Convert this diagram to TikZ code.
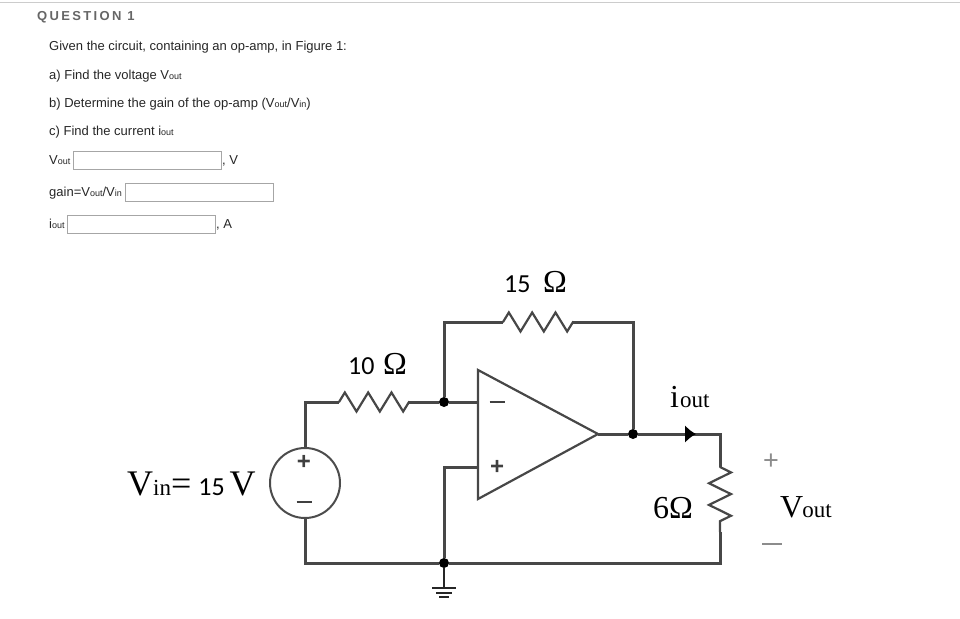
\documentclass[tikz,border=0pt]{standalone}
\usepackage{fontspec}
\setmainfont{Liberation Sans}
\newfontfamily\serfont{Liberation Serif}
\newfontfamily\calfont[Numbers=Lining]{Carlito}
\usetikzlibrary{arrows.meta,decorations.pathmorphing}
\newcommand{\fs}[1]{\fontsize{#1}{#1}\selectfont}
\newcommand{\subout}[1]{{\fs{9}#1}}
\newcommand{\bigsub}[1]{{\fs{23}#1}}
\begin{document}
\begin{tikzpicture}[x=1pt,y=1pt]
	\tikzstyle{line} = [text=black!85,anchor=base west,inner sep=0pt,font=\fs{13}]
	\tikzstyle{answer} = [draw=black!35,line width=1pt,anchor=north west,inner sep=0pt,minimum width=147.5pt,minimum height=17.5pt]
	\tikzstyle{wire} = [draw=black!72,line width=3pt]
	\tikzstyle{res} = [wire,line width=2.2pt,line cap=round,decorate,decoration={zigzag,amplitude=9.5pt,segment length=23.33pt}]
	\tikzstyle{dot} = [circle,fill=black,inner sep=0pt,minimum size=10pt]
	\tikzstyle{sign} = [text=black!75,inner sep=0pt,font=\bfseries\fs{24}]
	\tikzstyle{lab} = [anchor=base west,inner sep=0pt,font=\serfont]
	\useasboundingbox (0,0) rectangle (960,-618);
	% header
	\draw[black!20,line width=1.5pt] (0,-2.5) -- (960,-2.5);
	\node[anchor=base west,inner sep=0pt,text=black!60] (title) at (37,-21)
		{\addfontfeature{LetterSpace=18}\bfseries\fs{13}QUESTION 1};
	% question text
	\node[line] (q0) at (49,-51) {Given the circuit, containing an op-amp, in Figure 1:};
	\node[line] (q1) at (49,-79) {a) Find the voltage V\subout{out}};
	\node[line] (q2) at (49,-107) {b) Determine the gain of the op-amp (V\subout{out}/V\subout{in})};
	\node[line] (q3) at (49,-135) {c) Find the current i\subout{out}};
	% answer boxes
	\node[line] (a1) at (49,-164) {V\subout{out}};
	\node[answer] (box1) at (73.2,-151) {};
	\node[line] (u1) at (222,-164) {, V};
	\node[line] (a2) at (49,-196) {gain=V\subout{out}/V\subout{in}};
	\node[answer] (box2) at (125.4,-183.2) {};
	\node[line] (a3) at (49,-228) {i\subout{out}};
	\node[answer] (box3) at (67.2,-215.2) {};
	\node[line] (u3) at (216,-228) {, A};
	% junctions
	\node[dot] (n1) at (444,-402) {};
	\node[dot] (n2) at (633,-434) {};
	\node[dot] (n3) at (444,-563) {};
	% source
	\node[circle,draw=black!70,line width=2pt,minimum size=70pt,inner sep=0pt] (vin) at (305,-483) {};
	\node[sign] (vplus) at (304,-462) {+};
	\node[sign] (vminus) at (304,-502) {\rule{15pt}{2.5pt}};
	% resistors
	\coordinate (r1a) at (339,-402);
	\coordinate (r1b) at (409,-402);
	\coordinate (r2a) at (503,-322);
	\coordinate (r2b) at (573,-322);
	\coordinate (r3a) at (720,-467);
	\coordinate (r3b) at (720,-532);
	\draw[res] (r1a) -- (r1b);
	\draw[res] (r2a) -- (r2b);
	\draw[res,decoration={amplitude=11pt,segment length=21.67pt}] (r3a) -- (r3b);
	% op-amp
	\coordinate (opa) at (478,-370);
	\coordinate (opb) at (478,-499);
	\coordinate (opout) at (598,-434);
	\coordinate (opm) at (478,-402);
	\coordinate (opp) at (478,-467);
	\draw[wire,line width=2.2pt,line join=miter] (opa) -- (opout) -- (opb) -- cycle;
	\node[sign] (minus) at (497,-402) {\rule{15pt}{2.5pt}};
	\node[sign] (plus) at (497,-467) {+};
	% wires
	\coordinate (tip) at (696,-434);
	\coordinate (corner) at (720,-434);
	\coordinate (br) at (720,-563);
	\draw[wire] (vin.north) |- (r1a);
	\draw[wire] (r1b) -- (n1) -- (opm);
	\draw[wire] (n1) |- (r2a);
	\draw[wire] (r2b) -| (n2);
	\draw[wire] (opout) -- (n2);
	\draw[wire,line join=miter] (n2) -- (corner) -- (r3a);
	\draw[wire,-{Latex[black,length=11pt,width=18pt]}] (n2) -- (tip);
	\draw[wire,line join=miter] (r3b) -- (br) -- (n3);
	\draw[wire,line join=miter] (n3) -| (vin.south);
	\draw[wire,line join=miter] (n3) |- (opp);
	% ground
	\coordinate (g1) at (444,-588);
	\draw[black!85,line width=2.4pt] (n3) -- (g1);
	\draw[black!85,line width=2pt] (432,-588) -- (456,-588);
	\draw[black!85,line width=2pt] (436,-592.5) -- (452,-592.5);
	\draw[black!85,line width=2pt] (439,-597) -- (449,-597);
	% labels
	\node[lab] (l15) at (504,-292) {\calfont\fs{26}15};
	\node[lab] (o15) at (543,-292) {\fs{32}Ω};
	\node[lab] (l10) at (348,-374) {\calfont\fs{26}10};
	\node[lab] (o10) at (383,-374) {\fs{32}Ω};
	\node[lab] (lvin) at (127,-495) {\fs{36}V\bigsub{in}=\kern7pt{\calfont\fs{26}15}\kern5pt V};
	\node[lab] (liout) at (670,-407) {\fs{32}i\kern1pt\bigsub{out}};
	\node[lab] (l6) at (653,-518) {\fs{32}6Ω};
	\node[lab] (lvout) at (780,-517) {\fs{32}V\kern-1pt\bigsub{out}};
	\node[sign,text=black!45,font=\fs{27}] (oplus) at (771,-462) {+};
	\node[sign] (ominus) at (772,-544) {\textcolor{black!45}{\rule{20pt}{1.5pt}}};
\end{tikzpicture}
\end{document}
